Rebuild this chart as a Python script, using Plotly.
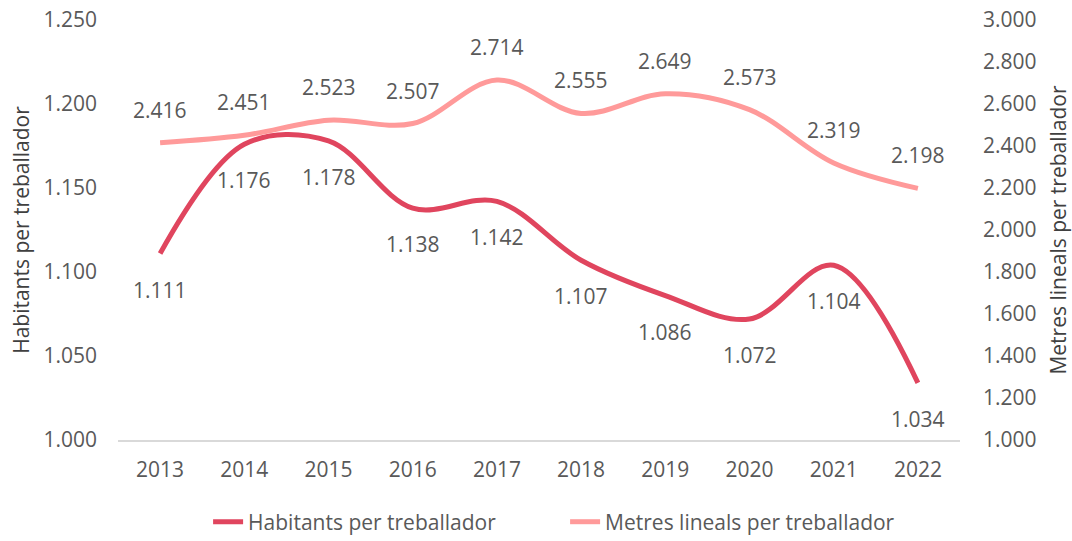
import plotly.graph_objects as go

# Anys i sèries
years = ["2013", "2014", "2015", "2016", "2017", "2018", "2019", "2020", "2021", "2022"]
habitants = [1111, 1176, 1178, 1138, 1142, 1107, 1086, 1072, 1104, 1034]
metres = [2416, 2451, 2523, 2507, 2714, 2555, 2649, 2573, 2319, 2198]

red = "#E0455E"
pink = "#FF9A9A"
grey = "#595959"
font_family = "Open Sans, Segoe UI, sans-serif"
fs = 21


def fmt(v):
    return f"{v:,}".replace(",", ".")


fig = go.Figure()
fig.add_trace(go.Scatter(
    x=years, y=habitants, name="Habitants per treballador",
    mode="lines", line=dict(color=red, width=5, shape="spline", smoothing=1.0),
    yaxis="y",
))
fig.add_trace(go.Scatter(
    x=years, y=metres, name="Metres lineals per treballador",
    mode="lines", line=dict(color=pink, width=5, shape="spline", smoothing=1.0),
    yaxis="y2",
))

annotations = []
for i, v in enumerate(habitants):
    annotations.append(dict(x=i, y=v, xref="x", yref="y", text=fmt(v), showarrow=False,
                            yshift=-36, font=dict(size=fs, color=grey, family=font_family)))
for i, v in enumerate(metres):
    annotations.append(dict(x=i, y=v, xref="x", yref="y2", text=fmt(v), showarrow=False,
                            yshift=33, font=dict(size=fs, color=grey, family=font_family)))

fig.update_layout(
    width=1072, height=541,
    margin=dict(l=118, r=112, t=20, b=101),
    paper_bgcolor="white", plot_bgcolor="white",
    separators=",.",
    font=dict(family=font_family, size=fs, color=grey),
    showlegend=True,
    legend=dict(orientation="h", x=0.107, xanchor="left", xref="paper",
                y=0.035, yanchor="middle", yref="container",
                font=dict(size=fs, color=grey), entrywidth=312, entrywidthmode="pixels"),
    xaxis=dict(type="category", range=[-0.5, 9.5], showline=True, linecolor="#D9D9D9",
               linewidth=2, showgrid=False, ticks="", automargin=False, ticklabelstandoff=10,
               tickfont=dict(size=fs, color=grey)),
    yaxis=dict(range=[1000, 1250], dtick=50, tickformat=",d", showgrid=False, zeroline=False,
               showline=False, ticks="", ticklabelstandoff=20, automargin=False,
               title=dict(text="Habitants per treballador", font=dict(size=fs, color="#404040"), standoff=8)),
    yaxis2=dict(range=[1000, 3000], dtick=200, tickformat=",d", overlaying="y", side="right",
                showgrid=False, zeroline=False, showline=False, ticks="", ticklabelstandoff=22,
                automargin=False,
                title=dict(text="Metres lineals per treballador", font=dict(size=fs, color="#404040"), standoff=16)),
    annotations=annotations,
)

fig.write_html("out.html")
